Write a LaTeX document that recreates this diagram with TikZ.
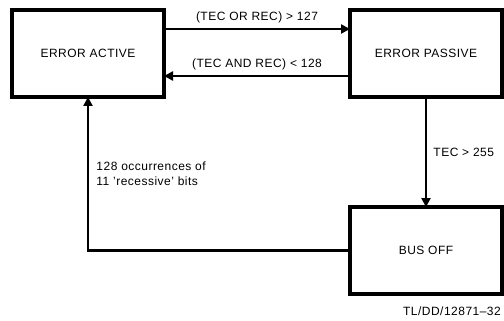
\documentclass[tikz,border=0pt]{standalone}
\usepackage{fontspec}
\setmainfont{Liberation Sans}[LetterSpace=4]
\usepackage{tikz}
\usetikzlibrary{positioning,arrows.meta}

\begin{document}
\begin{tikzpicture}[x=1pt,y=-1pt,
        font=\fontsize{12}{15}\selectfont,
        state/.style={draw, rectangle, line width=3.2pt, outer sep=0pt,
                      minimum width=152pt, minimum height=87pt},
        flow/.style={line width=2.3pt, -{Triangle[length=9pt,width=9pt]}}]
            \useasboundingbox (0,0) rectangle (504,321);

            \node (act) [state] at (88,53.5) {ERROR ACTIVE};
            \node (pas) [state, right=186pt of act] {ERROR PASSIVE};
            \node (off) [state, below=110pt of pas] {BUS OFF};
            \node (tag) [anchor=north east, inner sep=0pt] at ([xshift=-1pt,yshift=-13pt]off.south east) {TL/DD/12871–32};

            \draw[flow] ([yshift=24.5pt]act.east) -- node[above=2pt] {(TEC OR REC) > 127} ([yshift=24.5pt]pas.west);
            \draw[flow] ([yshift=-22.5pt]pas.west) -- node[above=2pt] {(TEC AND REC) < 128} ([yshift=-22.5pt]act.east);
            \draw[flow] (pas) -- node[right=3pt] {TEC > 255} (off);
            \draw[flow] (off.west) -| node[pos=0.75, right=4pt, align=left] {128 occurrences of\\11 'recessive' bits} (act.south);
        \end{tikzpicture}
\end{document}
